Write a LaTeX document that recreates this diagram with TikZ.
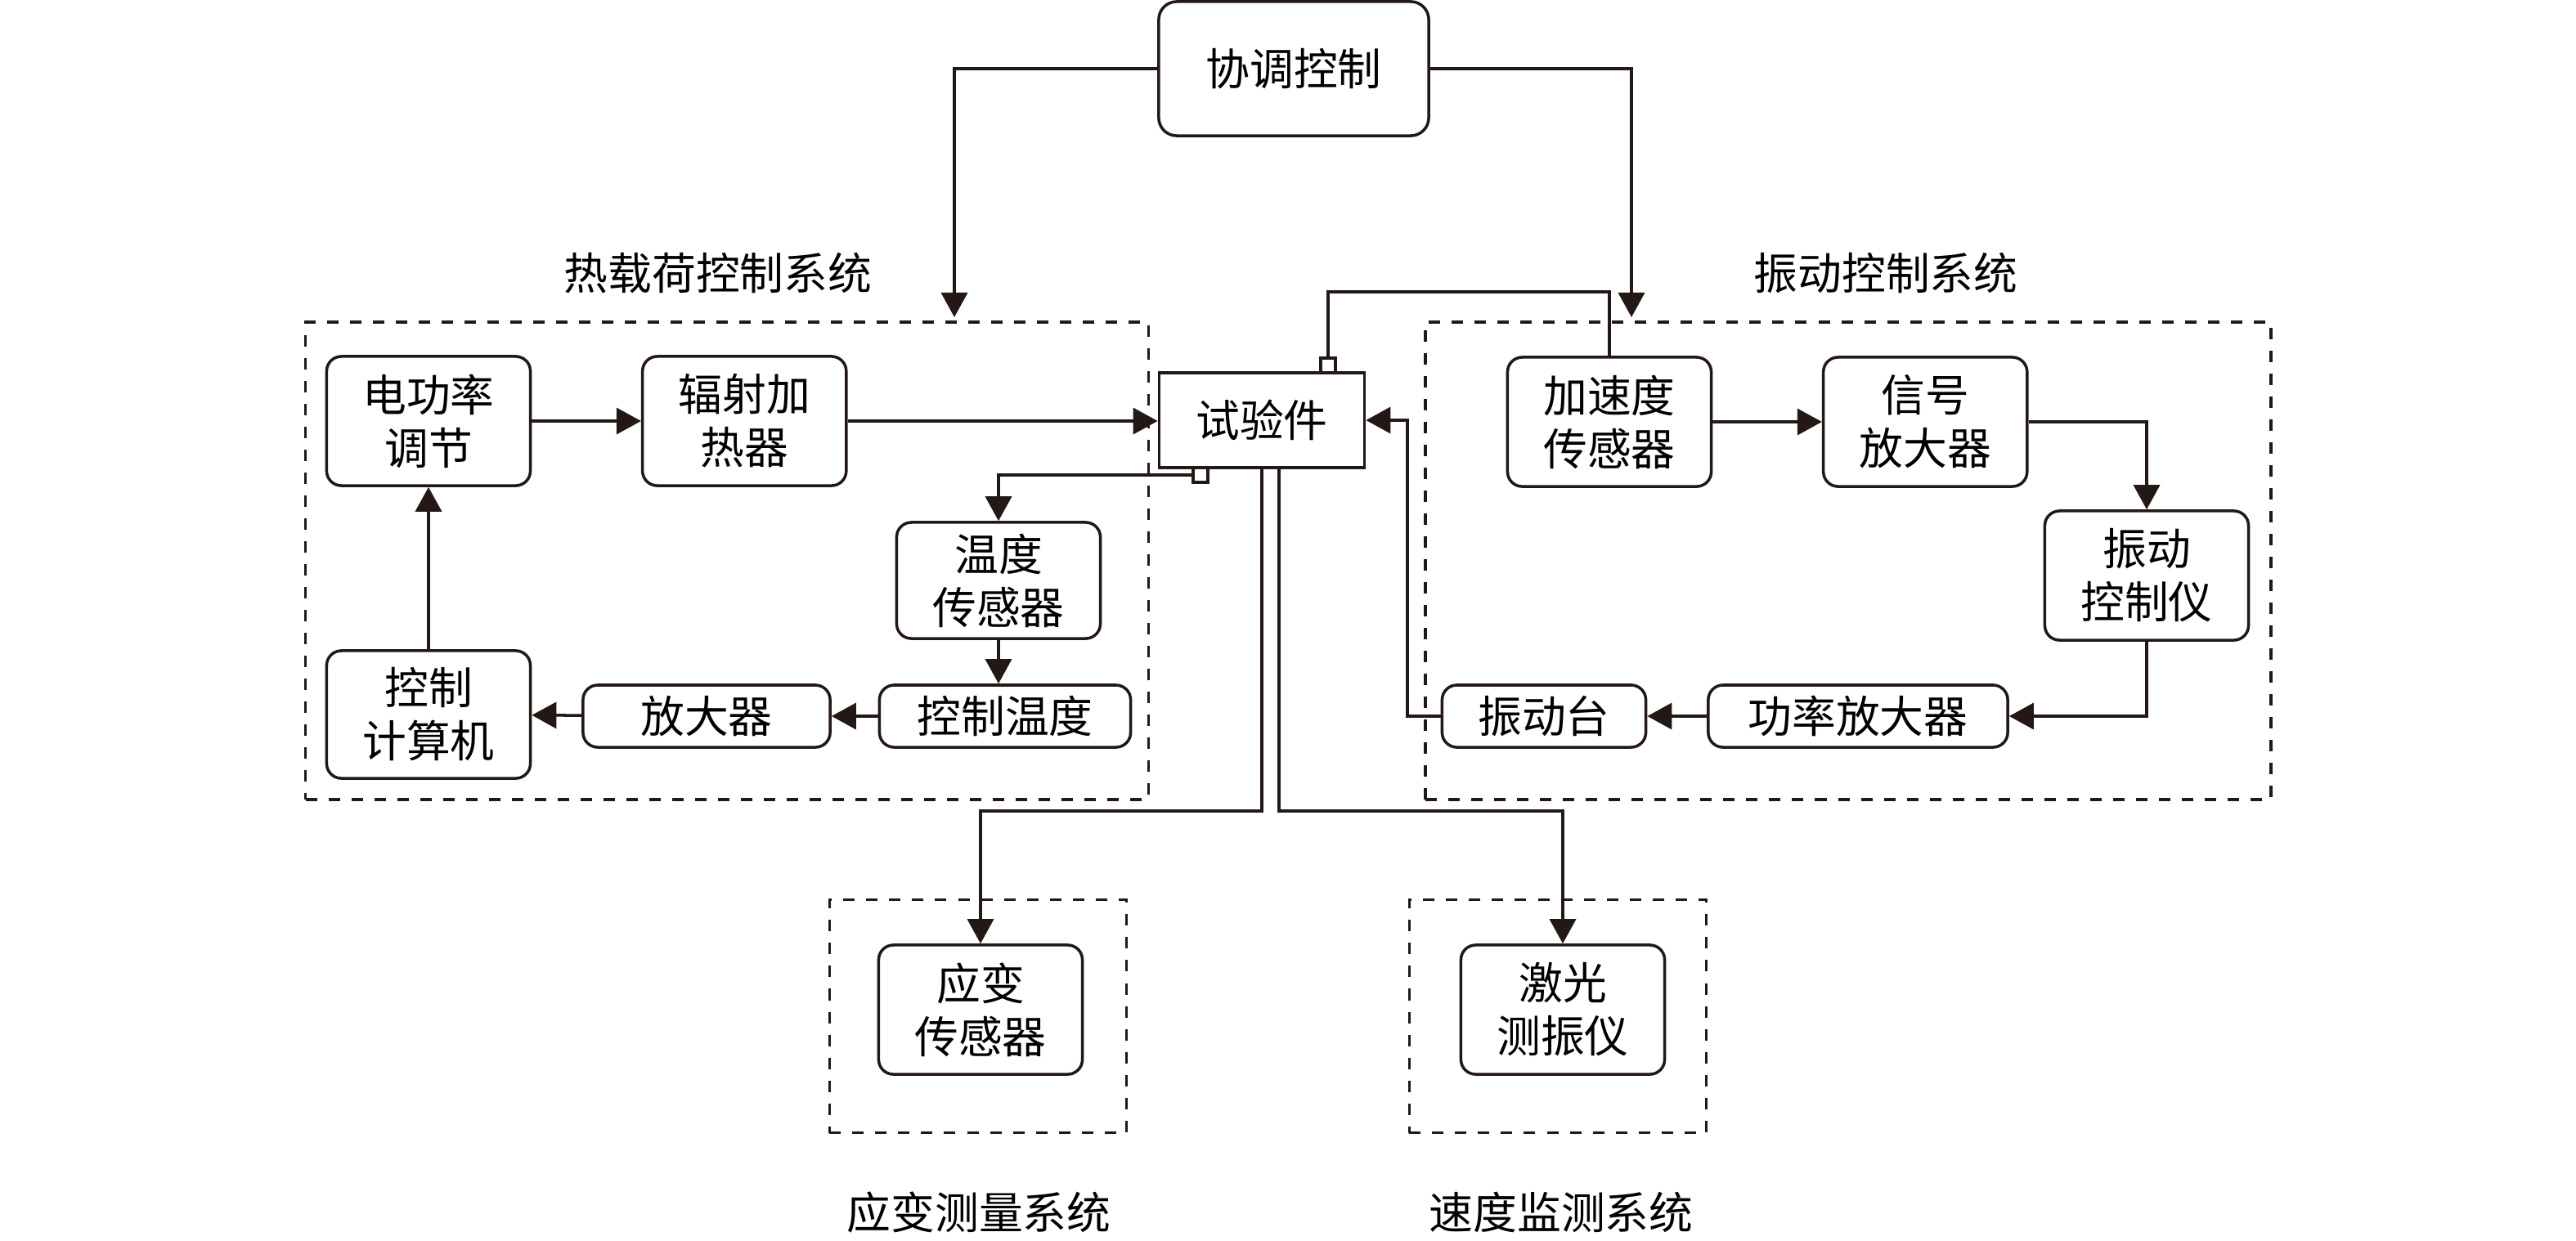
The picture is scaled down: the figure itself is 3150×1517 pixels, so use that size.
\documentclass[tikz,border=0pt]{standalone}
\usepackage{fontspec}
\setmainfont{Noto Sans CJK SC}
\usetikzlibrary{arrows.meta,positioning}
\definecolor{ink}{RGB}{35,24,21}

\begin{document}
\begin{tikzpicture}
    [x=0.01cm, y=-0.01cm,
    line width=1pt, draw=ink,
    node distance=3.86cm,
    arr/.style={-{Triangle[length=0.30cm,width=0.32cm]}},
    txt/.style={font=\fontsize{15.3}{18.5}\selectfont},
    block/.style={draw=ink, txt, rounded corners=0.18cm, minimum width=2.49cm, minimum height=1.58cm, align=center, inner sep=0pt},
    flat/.style={block, minimum height=0.76cm},
    sysbox/.style={draw=ink, dash pattern=on 0.14cm off 0.14cm, inner sep=0pt},
    port/.style={draw=ink, minimum size=0.18cm, inner sep=0pt}]
    \useasboundingbox (0,0) rectangle (3150,1517);

        %% systems
    \node[sysbox, minimum width=10.30cm, minimum height=5.84cm] (HS) at (889,686) {};
    \node[sysbox, minimum width=10.33cm, minimum height=5.84cm] (VS) at (2260,686) {};
    \node[sysbox, minimum width=3.63cm, minimum height=2.85cm] (YS) at (1196,1243) {};
    \node[sysbox, minimum width=3.63cm, minimum height=2.85cm] (JS) at (1905,1243) {};
    \node[txt] (LH) at (878,334) {热载荷控制系统};
    \node[txt] (LV) at (2306,334) {振动控制系统};
    \node[txt] (LY) at (1197,1483) {应变测量系统};
    \node[txt] (LJ) at (1909,1483) {速度监测系统};

        %% centre
    \node[block, minimum width=3.30cm, minimum height=1.64cm, rounded corners=0.22cm] (C) at (1582,84) {协调控制};
    \node[draw=ink, txt, minimum width=2.51cm, minimum height=1.16cm] (S) at (1543,514) {试验件};
    \node[port] (P1) at (1624,447) {};
    \node[port] (P2) at (1468,581) {};

        %% heat load
    \node[block] (H1) at (524,515) {电功率\\调节};
    \node[block, right of=H1] (H2) {辐射加\\热器};
    \node[block, minimum height=1.42cm] (T) at (1221,710) {温度\\传感器};
    \node[flat, minimum width=3.07cm] (TC) at (1229,876) {控制温度};
    \node[flat, minimum width=3.02cm] (AMP) at (864,876) {放大器};
    \node[block, minimum height=1.56cm] (PC) at (524,874) {控制\\计算机};

        %% vibration
    \node[block] (Z1) at (1968,516) {加速度\\传感器};
    \node[block, right of=Z1] (Z2) {信号\\放大器};
    \node[block] (Z3) at (2625,704) {振动\\控制仪};
    \node[flat, minimum width=3.66cm] (Z4) at (2272,876) {功率放大器};
    \node[flat] (Z5) at (1888,876) {振动台};

        %% measurement
    \node[block] (Y1) at (1199,1235) {应变\\传感器};
    \node[block] (Y2) at (1911,1235) {激光\\测振仪};

    \coordinate (Hin) at (1167,388);
    \coordinate (Vin) at (1995,388);
    \coordinate (K1) at (1624,357);
    \coordinate (K2) at (1721,876);
    \coordinate (B1) at (1543,992);
    \coordinate (B2) at (1564,992);

    \draw[arr] (C.west) -| (Hin);
    \draw[arr] (C.east) -| (Vin);

    \draw[arr] (H1) to (H2);
    \draw[arr] (H2.east) to (H2.east -| S.west);
    \draw[arr] (P2.west) -| (T.north);
    \draw[arr] (T.south) to (T.south |- TC.north);
    \draw[arr] (TC) to (AMP);
    \draw[arr] (AMP) to (PC);
    \draw[arr] (PC) to (H1);

    \draw (P1.north) to (K1) -| (Z1.north);
    \draw[arr] (Z1) to (Z2);
    \draw[arr] (Z2.east) -| (Z3.north);
    \draw[arr] (Z3.south) |- (Z4.east);
    \draw[arr] (Z4) to (Z5);
    \draw[arr] (Z5.west) to (K2) |- (S.east);

    \draw[arr] (S.south) to (B1) -| (Y1.north);
    \draw[arr] (S.south -| B2) to (B2) -| (Y2.north);
\end{tikzpicture}
\end{document}
